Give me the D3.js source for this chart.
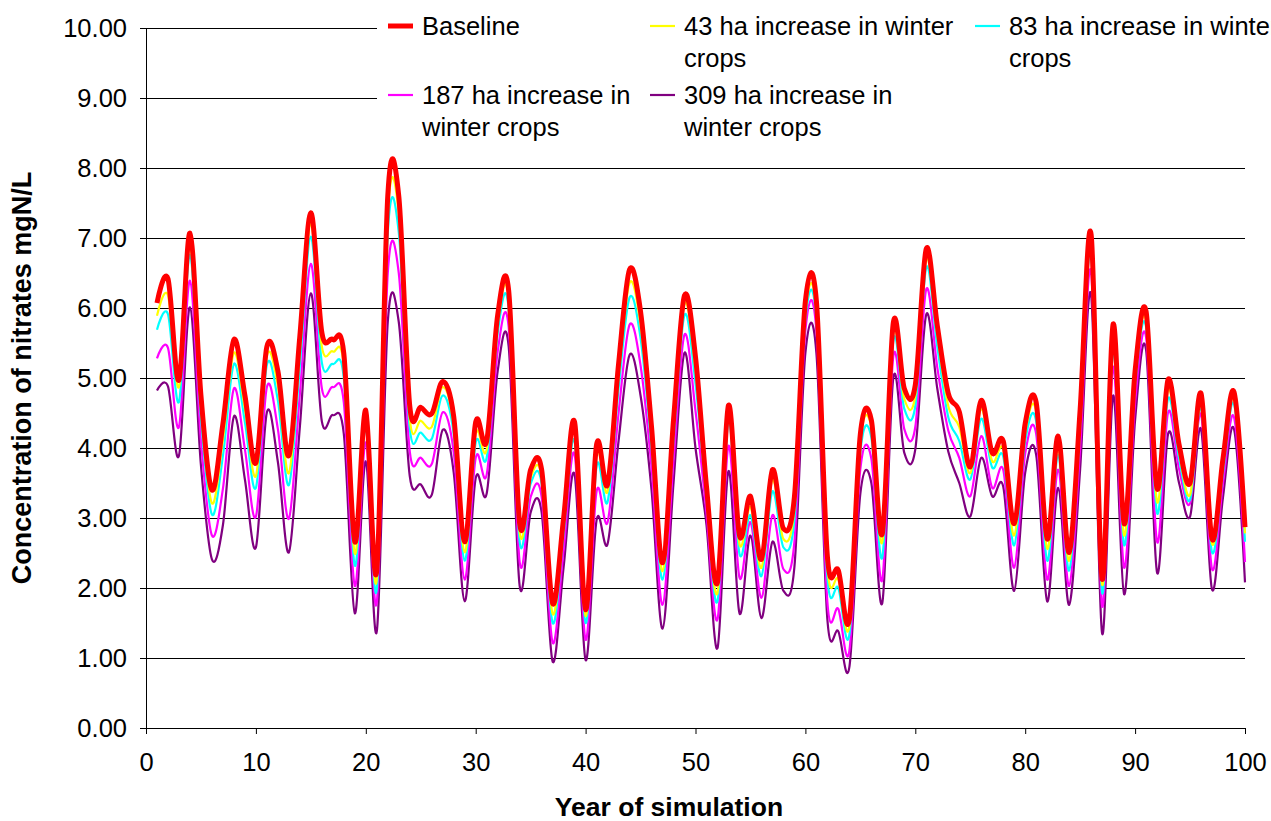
<!DOCTYPE html>
<html>
<head>
<meta charset="utf-8">
<script src="https://cdn.jsdelivr.net/npm/d3@7"></script>
<style>
  html, body { margin: 0; padding: 0; background: #ffffff; overflow: hidden; }
  svg { display: block; }
  text { font-family: "Liberation Sans", Arial, sans-serif; fill: #000; }
</style>
</head>
<body>
<svg id="chart" width="1271" height="821"></svg>
<script>
// Simulation years (x values)
const years = d3.range(1, 101);

// Nitrate concentration (mgN/L) per simulated year
const baseline = [6.07,6.42,4.97,7.07,4.75,3.40,4.35,5.55,4.75,3.79, 5.45,5.10,3.89,5.60,7.36,5.65,5.55,5.35,2.66,4.54,
  2.25,7.60,7.60,4.60,4.58,4.49,4.95,4.45,2.66,4.37, 4.10,5.90,6.25,2.92,3.69,3.69,1.78,3.00,4.37,1.69,
  4.05,3.48,5.20,6.55,5.95,4.30,2.36,4.40,6.18,5.30, 3.45,2.08,4.61,2.75,3.31,2.41,3.69,2.85,3.30,6.10,
  6.10,2.45,2.25,1.55,4.20,4.40,2.78,5.79,4.85,4.90, 6.85,5.75,4.78,4.52,3.73,4.68,3.93,4.10,2.92,4.35,
  4.65,2.70,4.17,2.51,4.55,7.05,2.13,5.77,2.92,5.10, 5.95,3.42,4.98,4.05,3.50,4.78,2.70,3.85,4.80,2.87];

const ha43 = [5.89,6.18,4.87,6.90,4.59,3.21,4.12,5.36,4.56,3.60, 5.31,4.89,3.64,5.39,7.20,5.45,5.38,5.18,2.49,4.43,
  2.12,7.35,7.35,4.42,4.39,4.30,4.87,4.32,2.51,4.20, 3.98,5.78,6.13,2.80,3.58,3.58,1.63,2.89,4.25,1.60,
  3.91,3.38,5.02,6.36,5.76,4.16,2.24,4.26,6.06,5.11, 3.36,1.93,4.50,2.63,3.16,2.29,3.55,2.70,3.14,5.95,
  5.95,2.30,2.12,1.45,4.10,4.30,2.66,5.65,4.70,4.75, 6.70,5.62,4.60,4.30,3.64,4.56,3.81,3.98,2.75,4.22,
  4.52,2.56,4.00,2.39,4.42,6.93,2.05,5.55,2.75,5.00, 5.82,3.23,4.83,3.95,3.33,4.63,2.63,3.75,4.70,2.78];

const ha83 = [5.69,5.91,4.66,6.76,4.43,3.05,3.89,5.20,4.37,3.43, 5.19,4.68,3.47,5.18,7.02,5.22,5.20,5.00,2.32,4.30,
  1.98,7.08,7.08,4.28,4.22,4.13,4.75,4.20,2.39,4.08, 3.86,5.65,6.00,2.66,3.49,3.49,1.50,2.78,4.10,1.50,
  3.74,3.23,4.85,6.15,5.57,4.01,2.12,4.11,5.90,4.92, 3.27,1.81,4.39,2.49,3.04,2.17,3.38,2.58,2.98,5.85,
  5.85,2.15,2.00,1.33,3.95,4.15,2.44,5.53,4.56,4.60, 6.58,5.45,4.44,4.10,3.55,4.42,3.72,3.88,2.61,4.10,
  4.38,2.39,3.90,2.25,4.28,6.80,1.93,5.40,2.61,4.90, 5.73,3.07,4.71,3.85,3.26,4.58,2.51,3.65,4.63,2.66];

const ha187 = [5.28,5.43,4.30,6.39,4.11,2.75,3.42,4.85,3.98,3.02, 4.87,4.27,2.99,4.77,6.63,4.85,4.87,4.65,2.03,4.08,
  1.79,6.50,6.50,3.95,3.86,3.77,4.51,3.94,2.12,3.86, 3.62,5.38,5.73,2.37,3.30,3.30,1.22,2.55,3.91,1.26,
  3.38,2.94,4.50,5.76,5.18,3.72,1.76,3.82,5.62,4.53, 3.07,1.55,4.03,2.15,2.94,1.86,3.04,2.27,2.66,5.68,
  5.68,1.80,1.70,1.10,3.70,3.85,2.12,5.31,4.27,4.30, 6.27,5.15,4.25,3.86,3.31,4.17,3.43,3.69,2.29,3.92,
  4.20,2.12,3.69,2.03,4.00,6.51,1.74,5.16,2.29,4.65, 5.58,2.66,4.51,3.70,3.21,4.48,2.27,3.50,4.44,2.37];

const ha309 = [4.82,4.88,3.89,6.01,3.75,2.41,2.90,4.45,3.55,2.58, 4.51,3.80,2.51,4.30,6.21,4.38,4.47,4.20,1.64,3.81,
  1.38,5.80,5.80,3.60,3.48,3.33,4.26,3.65,1.81,3.57, 3.35,5.10,5.45,2.03,3.08,3.08,0.95,2.30,3.62,0.97,
  2.97,2.63,4.10,5.33,4.75,3.40,1.42,3.50,5.36,4.00, 2.90,1.14,3.67,1.64,2.75,1.57,2.66,1.96,2.30,5.36,
  5.36,1.55,1.38,0.87,3.35,3.50,1.79,5.00,3.93,3.98, 5.91,4.85,3.95,3.50,3.02,3.86,3.31,3.45,1.96,3.65,
  3.90,1.81,3.43,1.76,3.70,6.18,1.35,4.75,1.91,4.40, 5.40,2.22,4.20,3.50,3.02,4.27,1.98,3.30,4.27,2.08];

// Axis ticks
const yTicks = [0,1,2,3,4,5,6,7,8,9,10];
const xTicks = [0,10,20,30,40,50,60,70,80,90,100];

// Series names and colours, in legend order
const seriesNames = ["Baseline", "43 ha increase in winter crops", "83 ha increase in winter crops",
  "187 ha increase in winter crops", "309 ha increase in winter crops"];
const seriesColors = ["#ff0000", "#ffff00", "#00ffff", "#ff00ff", "#800080"];
const seriesValues = [baseline, ha43, ha83, ha187, ha309];

const svg = d3.select("#chart");
const plot = { left: 146, right: 1245, top: 28, bottom: 728 };

const x = d3.scaleLinear().domain([0, 100]).range([plot.left, plot.right]);
const y = d3.scaleLinear().domain([0, 10]).range([plot.bottom, plot.top]);

const FONT = 25.5;

// Horizontal gridlines
svg.append("g")
  .attr("shape-rendering", "crispEdges")
  .selectAll("line")
  .data(yTicks.filter(d => d > 0))
  .join("line")
  .attr("x1", plot.left).attr("x2", plot.right)
  .attr("y1", d => Math.round(y(d)) + 0.5).attr("y2", d => Math.round(y(d)) + 0.5)
  .attr("stroke", "#000").attr("stroke-width", 1);

// Lines: drawn back to front so the baseline sits on top
const line = d3.line()
  .x((d, i) => x(years[i]))
  .y(d => y(d))
  .curve(d3.curveCardinal.tension(0));

const order = [4, 3, 2, 1, 0];
svg.append("g")
  .selectAll("path")
  .data(order)
  .join("path")
  .attr("d", k => line(seriesValues[k]))
  .attr("fill", "none")
  .attr("stroke", k => seriesColors[k])
  .attr("stroke-width", k => k === 0 ? 5 : 2.2)
  .attr("stroke-linejoin", "round");

// Y axis
const yAxis = svg.append("g")
  .attr("transform", `translate(${plot.left},0)`)
  .call(d3.axisLeft(y).tickValues(yTicks).tickFormat(d => d.toFixed(2))
    .tickSize(6).tickSizeOuter(0).tickPadding(13));
// X axis
const xAxis = svg.append("g")
  .attr("transform", `translate(0,${plot.bottom})`)
  .call(d3.axisBottom(x).tickValues(xTicks).tickFormat(d3.format("d"))
    .tickSize(6).tickSizeOuter(0).tickPadding(19));

[yAxis, xAxis].forEach(g => {
  g.attr("font-family", null).attr("font-size", null);
  g.selectAll("path.domain").attr("stroke", "#000").attr("stroke-width", 1);
  g.selectAll(".tick line").attr("stroke", "#000");
  g.selectAll(".tick text").style("font-size", FONT + "px").attr("fill", "#000");
});

// Axis titles
svg.append("text")
  .attr("transform", `translate(31,${(plot.top + plot.bottom) / 2}) rotate(-90)`)
  .attr("text-anchor", "middle")
  .style("font-size", "27px").style("font-weight", "bold")
  .text("Concentration of nitrates mgN/L");

svg.append("text")
  .attr("x", 669)
  .attr("y", 816)
  .attr("text-anchor", "middle")
  .style("font-size", "26.5px").style("font-weight", "bold")
  .text("Year of simulation");

// Legend
const legend = svg.append("g");
legend.append("rect")
  .attr("x", 377).attr("y", 4).attr("width", 900).attr("height", 140)
  .attr("fill", "#fff");

const legendItems = [
  { k: 0, x: 388, y: 26, lines: ["Baseline"] },
  { k: 1, x: 650, y: 26, lines: ["43 ha increase in winter", "crops"] },
  { k: 2, x: 975, y: 26, lines: ["83 ha increase in winter", "crops"] },
  { k: 3, x: 388, y: 95, lines: ["187 ha increase in", "winter crops"] },
  { k: 4, x: 650, y: 95, lines: ["309 ha increase in", "winter crops"] }
];

const li = legend.selectAll("g.item").data(legendItems).join("g").attr("class", "item");
li.append("line")
  .attr("x1", d => d.x).attr("x2", d => d.x + 25)
  .attr("y1", d => d.y).attr("y2", d => d.y)
  .attr("stroke", d => seriesColors[d.k])
  .attr("stroke-width", d => d.k === 0 ? 5 : 2.2);
li.append("text")
  .attr("x", d => d.x + 34)
  .attr("y", d => d.y)
  .style("font-size", FONT + "px")
  .selectAll("tspan")
  .data(d => d.lines.map((t, i) => ({ t, i, x: d.x + 34 })))
  .join("tspan")
  .attr("x", t => t.x)
  .attr("dy", t => t.i === 0 ? "0.35em" : "1.25em")
  .text(t => t.t);
</script>
</body>
</html>
